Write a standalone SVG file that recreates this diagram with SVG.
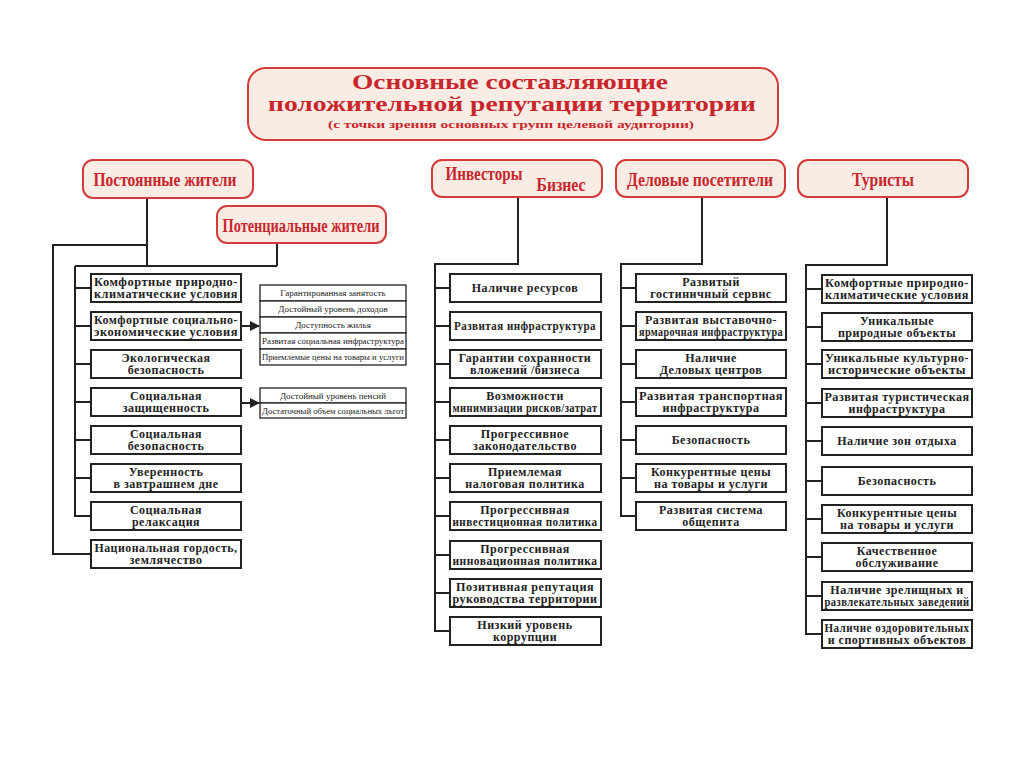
<svg xmlns="http://www.w3.org/2000/svg" width="1024" height="768" viewBox="0 0 1024 768">
<defs>
<style>
.hdr{fill:#f8ece4;stroke:#d33b3b;stroke-width:2}
.ht{font-family:"Liberation Serif",serif;font-weight:bold;font-size:18px;fill:#c8262c;text-anchor:middle}
.box{fill:#fff;stroke:#222;stroke-width:2}
.bt{font-family:"Liberation Serif",serif;font-weight:bold;font-size:12px;fill:#222;text-anchor:middle;letter-spacing:0.5px}
.sb{fill:#fff;stroke:#222;stroke-width:1.3}
.st{font-family:"Liberation Serif",serif;font-size:9px;fill:#222;text-anchor:middle}
.ln{fill:none;stroke:#222;stroke-width:2}
.tt{font-family:"Liberation Serif",serif;font-weight:bold;fill:#c8262c;text-anchor:middle}
</style>
<marker id="ar" viewBox="0 0 10 10" refX="9" refY="5" markerWidth="5" markerHeight="5" orient="auto" markerUnits="strokeWidth">
<path d="M0,0 L10,5 L0,10 z" fill="#222"/>
</marker>
</defs>
<rect width="1024" height="768" fill="#fff"/>

<g id="title">
<rect x="248" y="68" width="530" height="72" rx="18" class="hdr"/>
<text x="510" y="89" class="tt" font-size="21" textLength="316" lengthAdjust="spacingAndGlyphs">Основные составляющие</text>
<text x="512" y="111" class="tt" font-size="21" textLength="488" lengthAdjust="spacingAndGlyphs">положительной репутации территории</text>
<text x="511" y="128" class="tt" font-size="11" textLength="366" lengthAdjust="spacingAndGlyphs">(с точки зрения основных групп целевой аудитории)</text>
</g>

<g id="connectors">
<path class="ln" d="M147,198 V266 M277,243 V266 M75,266 H277"/>
<path class="ln" d="M147,245 H53 V554 H91"/>
<path class="ln" d="M75,266 V516 H91 M75,288 H91 M75,326 H91 M75,364 H91 M75,402 H91 M75,440 H91 M75,478 H91"/>
<path class="ln" d="M241,326 H259" marker-end="url(#ar)"/>
<path class="ln" d="M241,403 H259" marker-end="url(#ar)"/>
<path class="ln" d="M518,197 V264 H435 V631 H450 M435,288 H450 M435,326 H450 M435,364 H450 M435,402 H450 M435,440 H450 M435,478 H450 M435,516 H450 M435,555 H450 M435,593 H450"/>
<path class="ln" d="M702,197 V264 H621 V516 H636 M621,288 H636 M621,326 H636 M621,364 H636 M621,402 H636 M621,440 H636 M621,478 H636"/>
<path class="ln" d="M887,197 V265 H806 V634 H822 M806,289 H822 M806,327 H822 M806,364 H822 M806,403 H822 M806,441 H822 M806,481 H822 M806,519 H822 M806,557 H822 M806,596 H822"/>
</g>

<g id="h-residents"><rect x="83" y="160" width="170" height="38" rx="10" class="hdr"/><text x="165" y="186" class="ht" textLength="143" lengthAdjust="spacingAndGlyphs">Постоянные жители</text></g>
<g id="h-potential"><rect x="217" y="206" width="169" height="37" rx="10" class="hdr"/><text x="301" y="232" class="ht" textLength="157" lengthAdjust="spacingAndGlyphs">Потенциальные жители</text></g>
<g id="h-investors"><rect x="432" y="160" width="170" height="37" rx="10" class="hdr"/><text x="484" y="180" class="ht" textLength="77" lengthAdjust="spacingAndGlyphs">Инвесторы</text><text x="561" y="191" class="ht" textLength="49" lengthAdjust="spacingAndGlyphs">Бизнес</text></g>
<g id="h-business"><rect x="616" y="160" width="169" height="37" rx="10" class="hdr"/><text x="700" y="186" class="ht" textLength="146" lengthAdjust="spacingAndGlyphs">Деловые посетители</text></g>
<g id="h-tourists"><rect x="798" y="160" width="170" height="37" rx="10" class="hdr"/><text x="883" y="186" class="ht" textLength="62" lengthAdjust="spacingAndGlyphs">Туристы</text></g>

<g id="r1"><rect x="91" y="274" width="150" height="28" class="box"/><text x="166" y="286" class="bt" textLength="144" lengthAdjust="spacingAndGlyphs">Комфортные природно-</text><text x="166" y="298" class="bt" textLength="144" lengthAdjust="spacingAndGlyphs">климатические условия</text></g>
<g id="r2"><rect x="91" y="312" width="150" height="28" class="box"/><text x="166" y="324" class="bt" textLength="144" lengthAdjust="spacingAndGlyphs">Комфортные социально-</text><text x="166" y="336" class="bt" textLength="144" lengthAdjust="spacingAndGlyphs">экономические условия</text></g>
<g id="r3"><rect x="91" y="350" width="150" height="28" class="box"/><text x="166" y="362" class="bt">Экологическая</text><text x="166" y="374" class="bt">безопасность</text></g>
<g id="r4"><rect x="91" y="388" width="150" height="28" class="box"/><text x="166" y="400" class="bt">Социальная</text><text x="166" y="412" class="bt">защищенность</text></g>
<g id="r5"><rect x="91" y="426" width="150" height="28" class="box"/><text x="166" y="438" class="bt">Социальная</text><text x="166" y="450" class="bt">безопасность</text></g>
<g id="r6"><rect x="91" y="464" width="150" height="28" class="box"/><text x="166" y="476" class="bt">Уверенность</text><text x="166" y="488" class="bt">в завтрашнем дне</text></g>
<g id="r7"><rect x="91" y="502" width="150" height="28" class="box"/><text x="166" y="514" class="bt">Социальная</text><text x="166" y="526" class="bt">релаксация</text></g>
<g id="r8"><rect x="91" y="540" width="150" height="28" class="box"/><text x="166" y="552" class="bt" textLength="143" lengthAdjust="spacingAndGlyphs">Национальная гордость,</text><text x="166" y="564" class="bt">землячество</text></g>

<g id="sub1">
<rect x="260" y="285" width="146" height="16" class="sb"/><text x="333" y="296" class="st">Гарантированная занятость</text>
<rect x="260" y="301" width="146" height="16" class="sb"/><text x="333" y="312" class="st">Достойный уровень доходов</text>
<rect x="260" y="317" width="146" height="16" class="sb"/><text x="333" y="328" class="st">Доступность жилья</text>
<rect x="260" y="333" width="146" height="16" class="sb"/><text x="333" y="344" class="st" textLength="142" lengthAdjust="spacingAndGlyphs">Развитая социальная  инфраструктура</text>
<rect x="260" y="349" width="146" height="16" class="sb"/><text x="333" y="360" class="st" textLength="142" lengthAdjust="spacingAndGlyphs">Приемлемые цены на  товары  и услуги</text>
</g>
<g id="sub2">
<rect x="260" y="388" width="146" height="15" class="sb"/><text x="333" y="399" class="st">Достойный уровень пенсий</text>
<rect x="260" y="403" width="146" height="15" class="sb"/><text x="333" y="414" class="st" textLength="142" lengthAdjust="spacingAndGlyphs">Достаточный объем социальных льгот</text>
</g>

<g id="i1"><rect x="450" y="274" width="151" height="28" class="box"/><text x="525" y="292" class="bt">Наличие ресурсов</text></g>
<g id="i2"><rect x="450" y="312" width="151" height="28" class="box"/><text x="525" y="330" class="bt" textLength="142" lengthAdjust="spacingAndGlyphs">Развитая инфраструктура</text></g>
<g id="i3"><rect x="450" y="350" width="151" height="28" class="box"/><text x="525" y="362" class="bt">Гарантии сохранности</text><text x="525" y="374" class="bt">вложений /бизнеса</text></g>
<g id="i4"><rect x="450" y="388" width="151" height="28" class="box"/><text x="525" y="400" class="bt">Возможности</text><text x="525" y="412" class="bt" textLength="145" lengthAdjust="spacingAndGlyphs">минимизации рисков/затрат</text></g>
<g id="i5"><rect x="450" y="426" width="151" height="28" class="box"/><text x="525" y="438" class="bt">Прогрессивное</text><text x="525" y="450" class="bt">законодательство</text></g>
<g id="i6"><rect x="450" y="464" width="151" height="28" class="box"/><text x="525" y="476" class="bt">Приемлемая</text><text x="525" y="488" class="bt">налоговая политика</text></g>
<g id="i7"><rect x="450" y="502" width="151" height="28" class="box"/><text x="525" y="514" class="bt">Прогрессивная</text><text x="525" y="526" class="bt" textLength="145" lengthAdjust="spacingAndGlyphs">инвестиционная политика</text></g>
<g id="i8"><rect x="450" y="541" width="151" height="28" class="box"/><text x="525" y="553" class="bt">Прогрессивная</text><text x="525" y="565" class="bt" textLength="145" lengthAdjust="spacingAndGlyphs">инновационная политика</text></g>
<g id="i9"><rect x="450" y="579" width="151" height="28" class="box"/><text x="525" y="591" class="bt" textLength="138" lengthAdjust="spacingAndGlyphs">Позитивная репутация</text><text x="525" y="603" class="bt" textLength="145" lengthAdjust="spacingAndGlyphs">руководства территории</text></g>
<g id="i10"><rect x="450" y="617" width="151" height="28" class="box"/><text x="525" y="629" class="bt">Низкий уровень</text><text x="525" y="641" class="bt">коррупции</text></g>

<g id="b1"><rect x="636" y="274" width="150" height="28" class="box"/><text x="711" y="286" class="bt">Развитый</text><text x="711" y="298" class="bt">гостиничный сервис</text></g>
<g id="b2"><rect x="636" y="312" width="150" height="28" class="box"/><text x="711" y="324" class="bt">Развитая выставочно-</text><text x="711" y="336" class="bt" textLength="144" lengthAdjust="spacingAndGlyphs">ярмарочная инфраструктура</text></g>
<g id="b3"><rect x="636" y="350" width="150" height="28" class="box"/><text x="711" y="362" class="bt">Наличие</text><text x="711" y="374" class="bt">Деловых центров</text></g>
<g id="b4"><rect x="636" y="388" width="150" height="28" class="box"/><text x="711" y="400" class="bt" textLength="144" lengthAdjust="spacingAndGlyphs">Развитая транспортная</text><text x="711" y="412" class="bt">инфраструктура</text></g>
<g id="b5"><rect x="636" y="426" width="150" height="28" class="box"/><text x="711" y="444" class="bt">Безопасность</text></g>
<g id="b6"><rect x="636" y="464" width="150" height="28" class="box"/><text x="711" y="476" class="bt">Конкурентные цены</text><text x="711" y="488" class="bt">на товары и услуги</text></g>
<g id="b7"><rect x="636" y="502" width="150" height="28" class="box"/><text x="711" y="514" class="bt">Развитая система</text><text x="711" y="526" class="bt">общепита</text></g>

<g id="t1"><rect x="822" y="275" width="150" height="28" class="box"/><text x="897" y="287" class="bt" textLength="144" lengthAdjust="spacingAndGlyphs">Комфортные природно-</text><text x="897" y="299" class="bt" textLength="144" lengthAdjust="spacingAndGlyphs">климатические условия</text></g>
<g id="t2"><rect x="822" y="313" width="150" height="28" class="box"/><text x="897" y="325" class="bt">Уникальные</text><text x="897" y="337" class="bt">природные объекты</text></g>
<g id="t3"><rect x="822" y="350" width="150" height="28" class="box"/><text x="897" y="362" class="bt" textLength="144" lengthAdjust="spacingAndGlyphs">Уникальные культурно-</text><text x="897" y="374" class="bt" textLength="138" lengthAdjust="spacingAndGlyphs">исторические объекты</text></g>
<g id="t4"><rect x="822" y="389" width="150" height="28" class="box"/><text x="897" y="401" class="bt" textLength="145" lengthAdjust="spacingAndGlyphs">Развитая туристическая</text><text x="897" y="413" class="bt">инфраструктура</text></g>
<g id="t5"><rect x="822" y="427" width="150" height="28" class="box"/><text x="897" y="445" class="bt">Наличие зон отдыха</text></g>
<g id="t6"><rect x="822" y="467" width="150" height="28" class="box"/><text x="897" y="485" class="bt">Безопасность</text></g>
<g id="t7"><rect x="822" y="505" width="150" height="28" class="box"/><text x="897" y="517" class="bt">Конкурентные цены</text><text x="897" y="529" class="bt">на товары и услуги</text></g>
<g id="t8"><rect x="822" y="543" width="150" height="28" class="box"/><text x="897" y="555" class="bt">Качественное</text><text x="897" y="567" class="bt">обслуживание</text></g>
<g id="t9"><rect x="822" y="582" width="150" height="28" class="box"/><text x="897" y="594" class="bt">Наличие зрелищных и</text><text x="897" y="606" class="bt" textLength="145" lengthAdjust="spacingAndGlyphs">развлекательных заведений</text></g>
<g id="t10"><rect x="822" y="620" width="150" height="28" class="box"/><text x="897" y="632" class="bt" textLength="145" lengthAdjust="spacingAndGlyphs">Наличие оздоровительных</text><text x="897" y="644" class="bt">и спортивных объектов</text></g>
</svg>
